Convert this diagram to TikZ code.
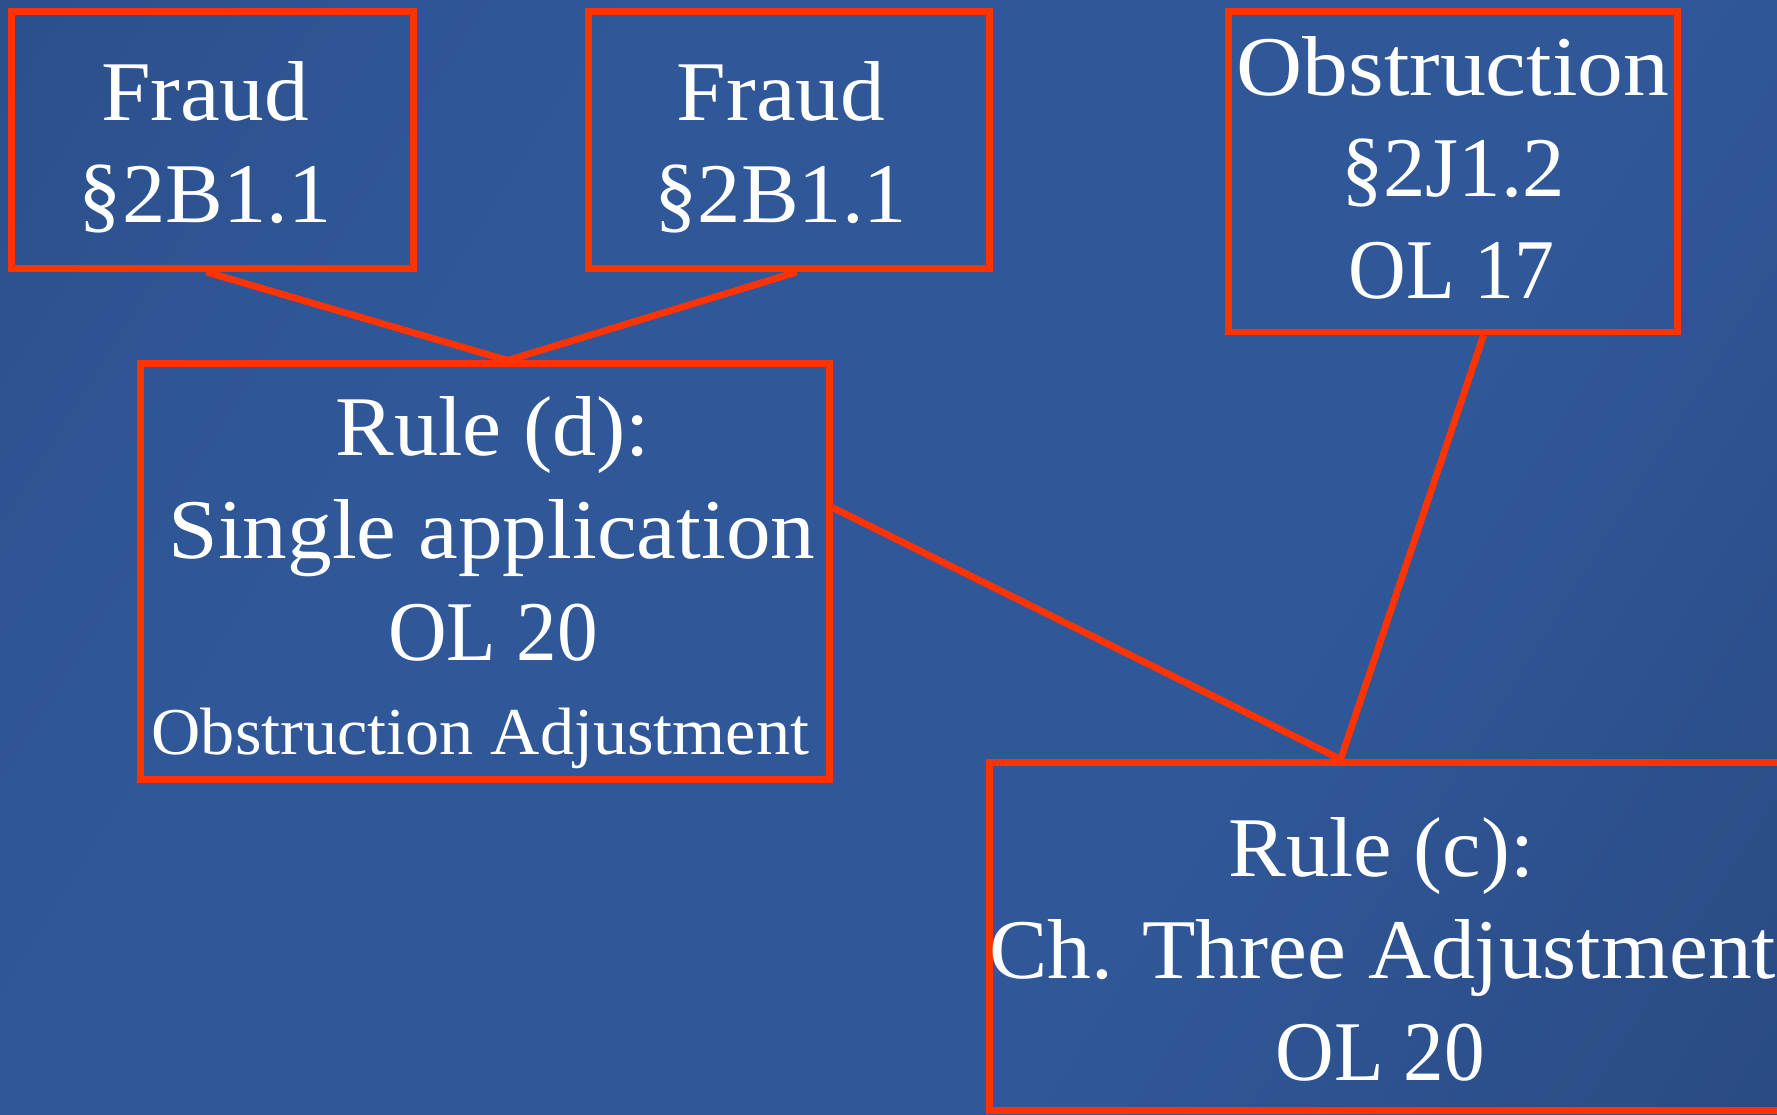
\documentclass[tikz,border=0pt]{standalone}
\usepackage{fontspec}
\usepackage{graphicx}
\setmainfont{Liberation Serif}[FakeStretch=1.05]
\usetikzlibrary{fit,calc}
\definecolor{bgA}{RGB}{40,73,130}
\definecolor{bgB}{RGB}{48,88,153}
\definecolor{bgC}{RGB}{38,66,118}
\definecolor{redline}{RGB}{255,51,0}
\pgfdeclarehorizontalshading{bgshade}{100bp}{color(0bp)=(bgA); color(35bp)=(bgB); color(62bp)=(bgB); color(100bp)=(bgC)}
\newcommand{\hsq}[2]{\scalebox{#1}[1]{#2}}
\begin{document}
\begin{tikzpicture}[x=0.5667pt,y=-0.5667pt,
  box/.style={draw=redline, line width=3.4pt, inner sep=0pt},
  txt/.style={anchor=base, inner sep=0pt, text=white, font=\fontsize{42.5}{50.4}\selectfont},
  smalltxt/.style={txt, font=\fontsize{33.5}{40}\selectfont},
  link/.style={draw=redline, line width=3.4pt}]
\shade[shading=bgshade, shading angle=-32] (0,0) rectangle (1568,983);
\useasboundingbox (0,0) rectangle (1568,983);
% boxes
\node[box, fit={(10,10)(365,237)}] (f1) {};
\node[box, fit={(519,10)(873,237)}] (f2) {};
\node[box, fit={(1084,10)(1480,293)}] (ob) {};
\node[box, fit={(124,321)(732,688)}] (rd) {};
\node[box, fit={(873,673)(1572,980)}] (rc) {};
% texts
\node[txt] (f1a) at (181,106) {Fraud};
\node[txt] (f1b) at (181,196) {\hsq{0.97}{§2B1.1}};
\node[txt] (f2a) at (689,106) {Fraud};
\node[txt] (f2b) at (689,196) {\hsq{0.97}{§2B1.1}};
\node[txt] (oba) at (1282,84) {\hsq{1.027}{Obstruction}};
\node[txt] (obb) at (1282,173.5) {\hsq{0.95}{§2J1.2}};
\node[txt] (obc) at (1281,263) {\hsq{0.895}{OL 17}};
\node[txt] (rda) at (435,402) {\hsq{0.985}{Rule (d):}};
\node[txt] (rdb) at (434,492.5) {Single application};
\node[txt] (rdc) at (435,582.5) {\hsq{0.91}{OL 20}};
\node[smalltxt] (rdd) at (424,665.5) {\hsq{0.97}{Obstruction Adjustment}};
\node[txt] (rca) at (1219,773) {\hsq{0.97}{Rule (c):}};
\node[txt] (rcb) at (1220,863) {\hsq{0.98}{Ch. Three Adjustment}};
\node[txt] (rcc) at (1218,953.5) {\hsq{0.91}{OL 20}};
% connectors
\draw[link] ($(f1.south)+(-5.5,0)$) -- ($(rd.north)+(20,0)$);
\draw[link] ($(f2.south)+(7,0)$) -- ($(rd.north)+(20,0)$);
\draw[link] ($(ob.south)+(27,0)$) -- ($(rc.north)+(-39.5,0)$);
\draw[link] ($(rd.east)+(0,-56.5)$) -- ($(rc.north)+(-39.5,0)$);
\end{tikzpicture}
\end{document}
